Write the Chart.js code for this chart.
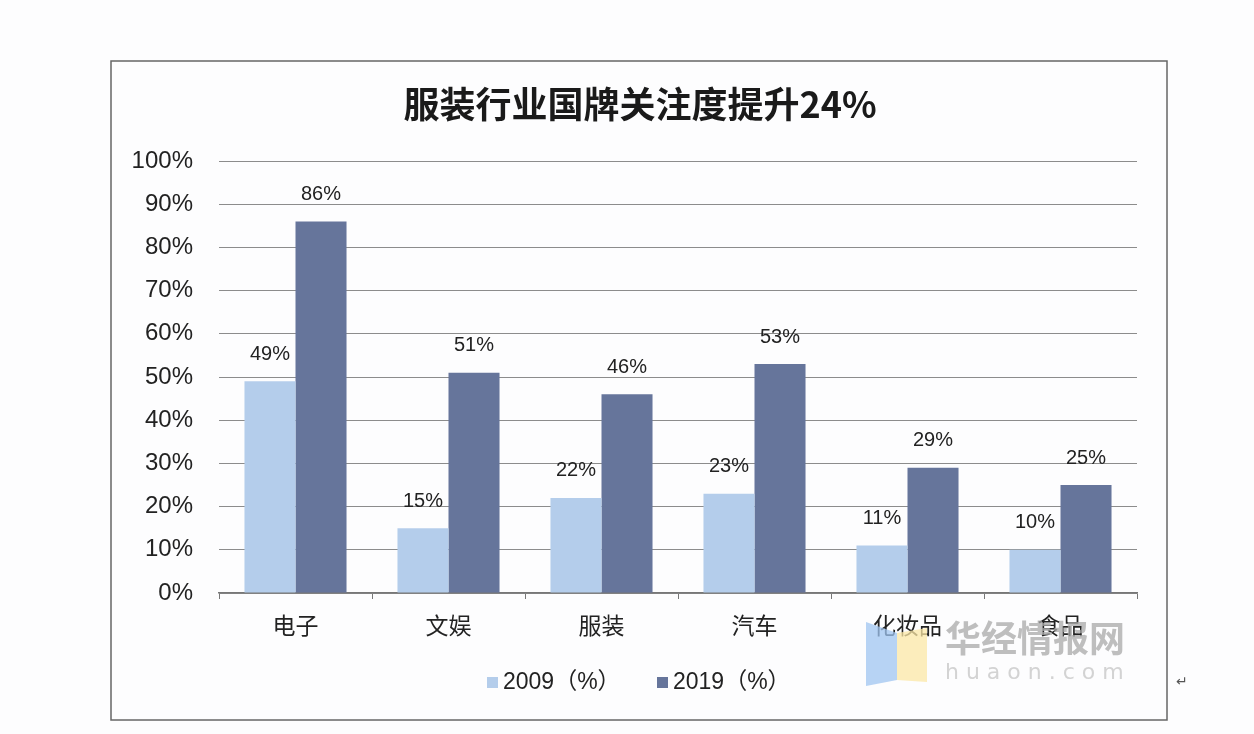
<!DOCTYPE html>
<html lang="zh-CN">
<head>
  <meta charset="UTF-8">
  <title>服装行业国牌关注度提升24%</title>
  <script src="https://cdn.jsdelivr.net/npm/chart.js"></script>
  <style>
    body {
      margin: 0;
      background-color: #fdfdfe;
    }
    canvas {
      display: block;
    }
  </style>
</head>
<body>
  <canvas id="grafico" width="1254" height="734"></canvas>
</body>
</html>
<script>
  // dados
  const categorias = ["电子", "文娱", "服装", "汽车", "化妆品", "食品"];
  const valores2009 = [49, 15, 22, 23, 11, 10];
  const valores2019 = [86, 51, 46, 53, 29, 25];
  const nomesSeries = ["2009（%）", "2019（%）"];
  const ticksY = [0, 10, 20, 30, 40, 50, 60, 70, 80, 90, 100];

  const titulo = "服装行业国牌关注度提升24%";
  const corClara = "#b4cdeb";
  const corEscura = "#66759b";

  // rótulos em cima das barras, moldura, título, legenda e marca d'água
  const extras = {
    id: "extras",
    afterDatasetsDraw(chart) {
      const c = chart.ctx;
      c.save();
      c.font = "20px 'Liberation Sans', Arial, sans-serif";
      c.fillStyle = "#222";
      c.textAlign = "center";
      c.textBaseline = "middle";
      chart.data.datasets.forEach((ds, i) => {
        chart.getDatasetMeta(i).data.forEach((bar, j) => {
          c.fillText(ds.data[j] + "%", bar.x, bar.y - 27);
        });
      });
      c.restore();
    },
    afterDraw(chart) {
      const c = chart.ctx;
      c.save();

      // moldura
      c.strokeStyle = "#666";
      c.lineWidth = 1.5;
      c.strokeRect(111, 61, 1056, 659);

      // título
      c.fillStyle = "#1a1a1a";
      c.font = "bold 36px 'Noto Sans CJK SC', sans-serif";
      c.textAlign = "center";
      c.textBaseline = "middle";
      c.fillText(titulo, 640, 104);

      // legenda
      const cores = [corClara, corEscura];
      const xs = [487, 657];
      c.font = "23px 'Liberation Sans', 'Noto Sans CJK SC', sans-serif";
      c.textAlign = "left";
      nomesSeries.forEach((nome, i) => {
        c.fillStyle = cores[i];
        c.fillRect(xs[i], 677, 11, 11);
        c.fillStyle = "#222";
        c.fillText(nome, xs[i] + 16, 683);
      });

      // marca d'água
      c.globalAlpha = 0.75;
      c.fillStyle = "#9fc4f0";
      c.beginPath();
      c.moveTo(866, 622); c.lineTo(897, 633); c.lineTo(897, 680); c.lineTo(866, 686);
      c.closePath(); c.fill();
      c.fillStyle = "#fbe7a6";
      c.beginPath();
      c.moveTo(897, 633); c.lineTo(927, 628); c.lineTo(927, 682); c.lineTo(897, 680);
      c.closePath(); c.fill();
      c.fillStyle = "#a8a8a8";
      c.font = "bold 36px 'Noto Sans CJK SC', sans-serif";
      c.fillText("华经情报网", 945, 638);
      c.fillStyle = "#c4c4c4";
      c.font = "22px 'DejaVu Sans', sans-serif";
      c.fillText("h u a o n . c o m", 945, 673);
      c.globalAlpha = 1;

      c.fillStyle = "#555";
      c.font = "14px 'DejaVu Sans', sans-serif";
      c.fillText("↵", 1176, 682);
      c.restore();
    }
  };

  const ctx = document.getElementById("grafico").getContext("2d");

  const grafico = new Chart(ctx, {
    type: "bar",
    data: {
      labels: categorias,
      datasets: [
        {
          label: nomesSeries[0],
          data: valores2009,
          backgroundColor: corClara
        },
        {
          label: nomesSeries[1],
          data: valores2019,
          backgroundColor: corEscura
        }
      ]
    },
    options: {
      responsive: false,
      animation: false,
      datasets: {
        bar: {
          categoryPercentage: 0.667,
          barPercentage: 1
        }
      },
      layout: {
        padding: { top: 161, right: 117, bottom: 81, left: 0 }
      },
      scales: {
        x: {
          grid: {
            offset: true,
            drawOnChartArea: false,
            tickLength: 6,
            color: "#777"
          },
          border: { color: "#777", width: 1.5 },
          ticks: {
            color: "#222",
            padding: 12,
            font: { size: 23, family: "'Noto Sans CJK SC', sans-serif" }
          },
          afterFit: (scale) => { scale.height = 60; }
        },
        y: {
          min: 0,
          max: 100,
          afterBuildTicks: (scale) => {
            scale.ticks = ticksY.map(v => ({ value: v }));
          },
          grid: {
            drawTicks: false,
            color: "#8c8c8c"
          },
          border: { display: false },
          ticks: {
            color: "#222",
            padding: 26,
            font: { size: 24, family: "'Liberation Sans', Arial, sans-serif" },
            callback: (v) => v + "%"
          },
          afterFit: (scale) => { scale.width = 219; }
        }
      },
      plugins: {
        legend: { display: false },
        title: { display: false },
        tooltip: { enabled: false }
      }
    },
    plugins: [extras]
  });
</script>
